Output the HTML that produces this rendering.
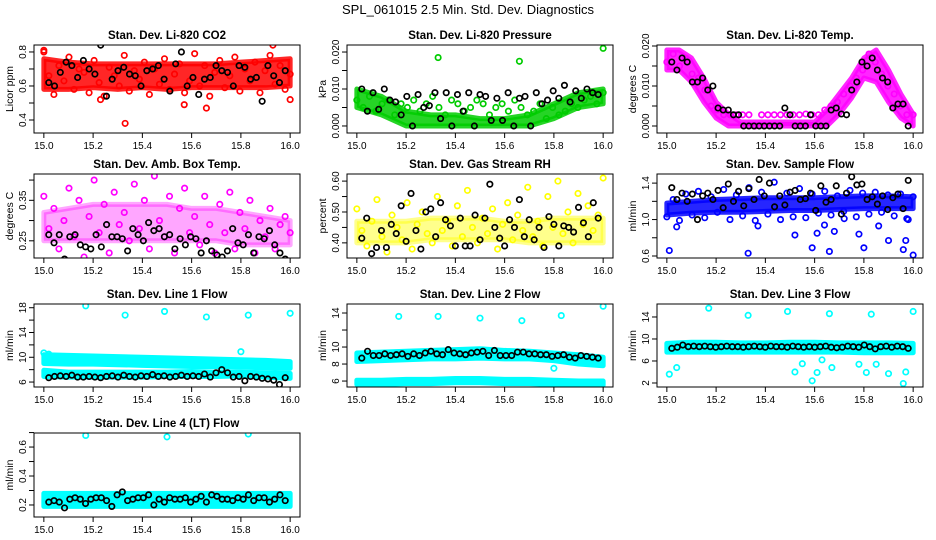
<!DOCTYPE html>
<html><head><meta charset="utf-8"><style>
html,body{margin:0;padding:0;background:#fff;}
svg{display:block;font-family:"Liberation Sans",sans-serif;}
</style></head><body>
<svg id="chart" width="936" height="540" viewBox="0 0 936 540" xmlns="http://www.w3.org/2000/svg">
<text x="468" y="14" text-anchor="middle" font-size="13">SPL_061015  2.5 Min. Std. Dev. Diagnostics</text>
</svg>
<script>
// x tick values shared by all panels
const xTicks = [15.0,15.2,15.4,15.6,15.8,16.0];
// ---- Panel 1: CO2
const co2BandLo = [0.58,0.58,0.59,0.58,0.59,0.58,0.59,0.59,0.59,0.59,0.60];
const co2BandHi = [0.76,0.74,0.73,0.73,0.73,0.73,0.73,0.73,0.74,0.75,0.76];
const co2Cloud = [0.80,0.66,0.55,0.72,0.63,0.77,0.58,0.70,0.68,0.56,0.75,0.62,0.54,0.71,0.66,0.60,0.78,0.57,0.69,0.64,0.74,0.55,0.70,0.61,0.76,0.58,0.67,0.73,0.56,0.63,0.79,0.60,0.72,0.54,0.68,0.75,0.59,0.66,0.77,0.57,0.70,0.63,0.74,0.56,0.69,0.78,0.61,0.72,0.58,0.67];
const co2OutX = [15.33,15.66,15.57,15.23,16.0,15.93,15.0];
const co2OutY = [0.38,0.47,0.49,0.52,0.52,0.84,0.81];
const co2Black = [0.62,0.60,0.68,0.74,0.72,0.65,0.75,0.70,0.67,0.84,0.54,0.64,0.69,0.71,0.67,0.66,0.60,0.69,0.70,0.72,0.64,0.57,0.73,0.80,0.60,0.65,0.55,0.64,0.65,0.72,0.69,0.68,0.60,0.72,0.71,0.64,0.65,0.51,0.72,0.66,0.62,0.69];
// ---- Panel 2: Pressure
const presBandLo = [0.005,0.003,0.0,0.0,0.0,0.0,0.0,0.0,0.002,0.005,0.006];
const presBandHi = [0.010,0.008,0.004,0.003,0.003,0.002,0.002,0.003,0.006,0.009,0.010];
const presCloud = [0.007,0.005,0.008,0.004,0.006,0.007,0.003,0.006,0.005,0.007,0.004,0.006,0.008,0.005,0.003,0.007,0.006,0.004,0.005,0.007,0.006,0.003,0.005,0.006,0.004,0.007,0.005,0.003,0.004,0.006,0.002,0.005,0.003,0.004,0.006,0.005,0.007,0.008,0.006,0.009];
const presOutX = [15.33,15.66,16.0];
const presOutY = [0.0185,0.0175,0.021];
const presBlack = [0.010,0.004,0.009,0.0045,0.010,0.007,0.0065,0.003,0.008,0.000,0.0085,0.005,0.0055,0.009,0.002,0.009,0.000,0.0085,0.004,0.009,0.0,0.0085,0.008,0.0015,0.0075,0.0015,0.009,0.000,0.0075,0.008,0.000,0.009,0.006,0.007,0.0095,0.0075,0.011,0.0065,0.0095,0.0075,0.010,0.009,0.0085];
// ---- Panel 3: Li-820 Temp
const tempBandLo = [0.014,0.014,0.011,0.006,0.002,0.000,0,0,0,0,0,0,0,0.000,0.003,0.007,0.012,0.011,0.006,0.002,0.000];
const tempBandHi = [0.019,0.019,0.017,0.012,0.006,0.003,0.001,0.001,0.001,0.001,0.001,0.001,0.001,0.004,0.008,0.012,0.017,0.019,0.014,0.008,0.003];
const tempCloud = [0.016,0.018,0.015,0.017,0.013,0.012,0.009,0.005,0.004,0.0028,0.0028,0.0028,0.0028,0.0028,0.000,0.0028,0.0028,0.0028,0.0028,0.0028,0.0028,0.0028,0.003,0.0028,0.0028,0.004,0.005,0.006,0.008,0.010,0.012,0.014,0.018,0.016,0.013,0.010,0.008,0.005,0.0028,0.0028];
const tempOutX = [];
const tempOutY = [];
const tempBlack = [0.016,0.014,0.017,0.016,0.011,0.011,0.012,0.009,0.010,0.0045,0.004,0.004,0.0028,0.0028,0,0,0,0,0,0,0,0,0.0045,0.0028,0,0,0,0.0028,0,0,0,0.004,0.0045,0.003,0.0028,0.009,0.011,0.016,0.015,0.017,0.014,0.012,0.011,0.0045,0.0055,0.0055,0.0];
// ---- Panel 4: Amb box temp
const boxBandLo = [0.25,0.25,0.25,0.25,0.25,0.25,0.25,0.25,0.24,0.24,0.24];
const boxBandHi = [0.32,0.33,0.34,0.34,0.34,0.34,0.33,0.33,0.32,0.31,0.30];
const boxCloud = [0.36,0.28,0.33,0.23,0.30,0.38,0.26,0.35,0.21,0.31,0.40,0.27,0.34,0.22,0.37,0.29,0.32,0.25,0.39,0.28,0.35,0.23,0.41,0.30,0.26,0.36,0.22,0.33,0.38,0.27,0.31,0.24,0.36,0.29,0.22,0.34,0.27,0.37,0.23,0.32,0.28,0.35,0.22,0.30,0.26,0.33,0.23,0.29,0.31,0.27];
const boxOutX = [];
const boxOutY = [];
const boxBlack = [0.265,0.245,0.265,0.205,0.26,0.265,0.24,0.235,0.23,0.265,0.235,0.29,0.26,0.26,0.255,0.225,0.28,0.265,0.25,0.295,0.275,0.28,0.26,0.265,0.23,0.255,0.24,0.26,0.255,0.22,0.25,0.225,0.215,0.21,0.225,0.28,0.245,0.24,0.265,0.22,0.26,0.255,0.275,0.24,0.22,0.205];
// ---- Panel 5: Gas stream RH
const rhBandLo = [0.40,0.40,0.40,0.41,0.41,0.41,0.41,0.40,0.40,0.40,0.40];
const rhBandHi = [0.47,0.47,0.47,0.48,0.48,0.48,0.47,0.47,0.48,0.48,0.48];
const rhCloud = [0.51,0.44,0.39,0.47,0.54,0.42,0.37,0.49,0.45,0.41,0.53,0.38,0.46,0.50,0.43,0.40,0.55,0.44,0.47,0.39,0.52,0.42,0.57,0.45,0.40,0.48,0.43,0.51,0.38,0.46,0.53,0.41,0.49,0.44,0.58,0.42,0.47,0.39,0.55,0.45,0.60,0.43,0.50,0.40,0.56,0.46,0.52,0.44,0.49,0.61];
const rhOutX = [];
const rhOutY = [];
const rhBlack = [0.415,0.48,0.365,0.385,0.44,0.385,0.46,0.43,0.52,0.405,0.56,0.44,0.38,0.50,0.51,0.42,0.53,0.475,0.455,0.39,0.48,0.39,0.39,0.49,0.41,0.48,0.59,0.45,0.415,0.39,0.475,0.45,0.54,0.42,0.475,0.41,0.45,0.385,0.485,0.46,0.39,0.455,0.45,0.435,0.515,0.465,0.42,0.53,0.48];
// ---- Panel 6: Sample flow
const sfBandLo = [1.05,1.07,1.08,1.08,1.09,1.10,1.10,1.11,1.12,1.12,1.12];
const sfBandHi = [1.18,1.20,1.22,1.23,1.24,1.24,1.24,1.25,1.26,1.26,1.25];
const sfCloud = [1.03,1.22,0.99,1.28,1.05,1.31,1.02,1.25,1.08,1.33,1.00,1.27,1.04,1.35,0.99,1.30,1.06,1.41,1.00,1.29,1.03,1.34,1.02,1.28,1.07,1.31,1.05,1.26,1.09,1.32,1.03,1.29,1.06,1.30,1.08,1.27,1.04,1.28,1.01,1.25];
const sfOutX = [15.01,15.04,15.33,15.37,15.52,15.59,15.61,15.64,15.66,15.68,15.72,15.78,15.80,15.86,15.90,15.96,15.97,15.98,16.0];
const sfOutY = [0.66,0.92,0.63,0.93,0.83,0.69,0.85,0.94,0.65,0.87,1.01,0.84,0.69,0.93,0.77,0.67,0.77,1.00,0.61];
const sfBlack = [1.35,1.22,1.29,1.20,1.28,1.00,1.26,1.29,1.22,1.32,1.13,1.39,1.20,1.31,1.15,1.34,1.22,1.44,1.26,1.40,1.14,1.26,1.16,1.30,1.32,1.22,1.23,1.29,1.10,1.37,1.19,1.22,1.37,1.06,1.29,1.47,1.38,1.39,1.22,1.25,1.17,1.26,1.11,1.24,1.28,1.12,1.43];
// ---- Panel 7: Line 1 flow (two bands)
const l1BandLo = [9.0,8.9,8.9,8.8,8.7,8.6,8.5,8.5,8.4,8.3,8.2];
const l1BandHi = [10.4,10.3,10.2,10.1,10.0,9.9,9.8,9.7,9.6,9.5,9.3];
const l1Band2Lo = [6.9,6.8,6.8,6.8,6.8,6.9,6.9,6.9,7.0,6.8,6.6];
const l1Band2Hi = [7.9,7.6,7.6,7.6,7.6,7.6,7.7,7.6,7.6,7.5,7.4];
const l1OutX = [15.17,15.33,15.49,15.66,15.80,15.83,16.0,15.0,15.02];
const l1OutY = [18.3,16.8,17.4,16.5,10.9,16.8,17.1,10.7,10.5];
const l1Black = [6.7,6.9,7.0,6.9,7.1,6.8,6.8,6.9,6.8,6.7,6.9,7.0,6.8,7.1,6.9,6.8,7.0,6.9,7.2,6.9,7.0,6.8,6.9,7.1,6.9,7.0,6.9,7.3,6.8,7.5,8.0,7.5,6.8,6.9,6.2,6.9,6.8,6.6,6.5,6.3,5.6,6.7];
// ---- Panel 8: Line 2 flow
const l2BandLo = [8.3,8.4,8.5,8.6,8.6,8.7,8.6,8.6,8.4,8.0,7.8];
const l2BandHi = [9.3,9.4,9.5,9.6,9.7,9.8,9.6,9.5,9.3,9.1,8.8];
const l2Band2Lo = [5.6,5.6,5.7,5.7,5.8,5.8,5.7,5.7,5.6,5.6,5.5];
const l2Band2Hi = [6.1,6.1,6.2,6.2,6.3,6.3,6.2,6.2,6.1,6.0,6.0];
const l2OutX = [15.17,15.33,15.50,15.67,15.80,15.83,16.0];
const l2OutY = [13.6,13.6,13.4,13.1,7.5,13.7,14.8];
const l2Black = [8.7,9.5,9.0,9.0,9.2,9.0,9.1,9.2,8.9,9.2,9.0,9.3,9.5,9.2,9.1,9.7,9.3,9.2,9.1,9.3,9.4,9.5,9.0,9.6,9.0,9.0,9.0,9.4,9.4,9.2,9.2,9.1,9.1,8.9,9.0,9.1,8.8,8.7,9.0,8.9,8.8,8.7];
// ---- Panel 9: Line 3 flow
const l3BandLo = [7.6,7.6,7.6,7.6,7.6,7.6,7.6,7.6,7.5,7.5,7.5];
const l3BandHi = [9.2,9.4,9.4,9.3,9.3,9.4,9.4,9.3,9.3,9.3,9.2];
const l3OutX = [15.01,15.04,15.17,15.33,15.49,15.52,15.55,15.59,15.61,15.63,15.66,15.67,15.78,15.81,15.83,15.85,15.90,15.96,15.97,16.0];
const l3OutY = [3.6,4.8,15.6,14.3,15.0,4.0,5.5,2.4,3.9,6.2,14.6,4.8,5.4,3.9,14.5,5.4,3.7,1.9,4.0,15.0];
const l3Black = [8.3,8.5,8.9,8.6,8.7,8.6,8.7,8.6,8.5,8.6,8.7,8.6,8.6,8.5,8.6,8.7,8.6,8.5,8.7,8.6,8.6,8.5,8.7,8.6,8.5,8.6,8.5,8.6,8.7,8.5,8.4,8.5,8.7,8.6,8.5,8.9,8.6,8.2,8.6,8.7,8.5,8.7,8.6,8.3];
// ---- Panel 10: Line 4 flow
const l4BandLo = [0.19,0.19,0.19,0.19,0.19,0.19,0.19,0.19,0.19,0.19,0.19];
const l4BandHi = [0.28,0.28,0.28,0.28,0.28,0.28,0.28,0.28,0.28,0.28,0.28];
const l4OutX = [15.17,15.50,15.83];
const l4OutY = [0.68,0.67,0.69];
const l4Black = [0.22,0.23,0.22,0.18,0.24,0.25,0.24,0.21,0.24,0.25,0.25,0.23,0.19,0.27,0.29,0.23,0.24,0.25,0.25,0.27,0.20,0.24,0.22,0.25,0.24,0.24,0.25,0.22,0.24,0.26,0.22,0.27,0.26,0.24,0.24,0.23,0.25,0.24,0.27,0.23,0.25,0.25,0.22,0.24,0.27,0.23];

const NS = "http://www.w3.org/2000/svg";
const svg = document.getElementById('chart');
function mk(tag, attrs, parent){const e=document.createElementNS(NS,tag);for(const k in attrs)e.setAttribute(k,attrs[k]);(parent||svg).appendChild(e);return e;}

const panels = [
 {key:'co2',title:'Stan. Dev. Li-820 CO2',ylab:'Licor ppm',col:0,row:0,color:'#ff0000',ymin:0.3235,ymax:0.841,ticks:[0.4,0.5,0.6,0.7,0.8],labels:{'0.4':'0.4','0.6':'0.6','0.8':'0.8'},bands:[[co2BandLo,co2BandHi]],cloud:co2Cloud,ox:co2OutX,oy:co2OutY,blk:co2Black,op:0.85},
 {key:'pres',title:'Stan. Dev. Li-820 Pressure',ylab:'kPa',col:1,row:0,color:'#00cc00',ymin:-0.0019,ymax:0.0219,ticks:[0,0.005,0.01,0.015,0.02],labels:{'0':'0.000','0.01':'0.010','0.02':'0.020'},bands:[[presBandLo,presBandHi]],cloud:presCloud,ox:presOutX,oy:presOutY,blk:presBlack,op:0.85},
 {key:'temp',title:'Stan. Dev. Li-820 Temp.',ylab:'degrees C',col:2,row:0,color:'#ff00ff',ymin:-0.00175,ymax:0.02025,ticks:[0,0.005,0.01,0.015,0.02],labels:{'0':'0.000','0.01':'0.010','0.02':'0.020'},bands:[[tempBandLo,tempBandHi]],cloud:tempCloud,ox:tempOutX,oy:tempOutY,blk:tempBlack,op:0.85},
 {key:'box',title:'Stan. Dev. Amb. Box Temp.',ylab:'degrees C',col:0,row:1,color:'#ff00ff',ymin:0.2075,ymax:0.415,ticks:[0.25,0.30,0.35,0.40],labels:{'0.25':'0.25','0.35':'0.35'},bands:[[boxBandLo,boxBandHi]],cloud:boxCloud,ox:boxOutX,oy:boxOutY,blk:boxBlack,op:0.35},
 {key:'rh',title:'Stan. Dev. Gas Stream RH',ylab:'percent',col:1,row:1,color:'#ffff00',ymin:0.351,ymax:0.623,ticks:[0.40,0.45,0.50,0.55,0.60],labels:{'0.4':'0.40','0.5':'0.50','0.6':'0.60'},bands:[[rhBandLo,rhBandHi]],cloud:rhCloud,ox:rhOutX,oy:rhOutY,blk:rhBlack,op:0.45},
 {key:'sf',title:'Stan. Dev. Sample Flow',ylab:'ml/min',col:2,row:1,color:'#0000ff',ymin:0.578,ymax:1.5,ticks:[0.6,0.8,1.0,1.2,1.4],labels:{'0.6':'0.6','1':'1.0','1.4':'1.4'},bands:[[sfBandLo,sfBandHi]],cloud:sfCloud,ox:sfOutX,oy:sfOutY,blk:sfBlack,op:0.85},
 {key:'l1',title:'Stan. Dev. Line 1 Flow',ylab:'ml/min',col:0,row:2,color:'#00ffff',ymin:5.2,ymax:18.6,ticks:[6,8,10,12,14,16,18],labels:{'6':'6','10':'10','14':'14','18':'18'},bands:[[l1BandLo,l1BandHi],[l1Band2Lo,l1Band2Hi]],cloud:[],ox:l1OutX,oy:l1OutY,blk:l1Black,op:1},
 {key:'l2',title:'Stan. Dev. Line 2 Flow',ylab:'ml/min',col:1,row:2,color:'#00ffff',ymin:5.3,ymax:15.06,ticks:[6,8,10,12,14],labels:{'6':'6','8':'8','10':'10','14':'14'},bands:[[l2BandLo,l2BandHi],[l2Band2Lo,l2Band2Hi]],cloud:[],ox:l2OutX,oy:l2OutY,blk:l2Black,op:1},
 {key:'l3',title:'Stan. Dev. Line 3 Flow',ylab:'ml/min',col:2,row:2,color:'#00ffff',ymin:1.27,ymax:16.36,ticks:[2,6,10,14],labels:{'2':'2','6':'6','10':'10','14':'14'},bands:[[l3BandLo,l3BandHi]],cloud:[],ox:l3OutX,oy:l3OutY,blk:l3Black,op:1},
 {key:'l4',title:'Stan. Dev. Line 4 (LT) Flow',ylab:'ml/min',col:0,row:3,color:'#00ffff',ymin:0.117,ymax:0.697,ticks:[0.2,0.3,0.4,0.5,0.6,0.7],labels:{'0.2':'0.2','0.4':'0.4','0.6':'0.6'},bands:[[l4BandLo,l4BandHi]],cloud:[],ox:l4OutX,oy:l4OutY,blk:l4Black,op:1}
];
const colLeft=[34,347,657], W=266;
const rowTop=[45,174,304,433], rowBot=[133,258,387,517];

panels.forEach(p=>{
  const L=colLeft[p.col], T=rowTop[p.row], B=rowBot[p.row], H=B-T;
  const xs=v=>L+(v-14.96)/1.08*W;
  const ys=v=>B-(v-p.ymin)/(p.ymax-p.ymin)*H;
  const g=mk('g',{});
  
  
  const clip=mk('clipPath',{id:'clip-'+p.key},g);
  mk('rect',{x:L,y:T,width:W,height:H},clip);
  const t=mk('text',{x:L+W/2,y:T-6,'text-anchor':'middle','font-size':'11.5','font-weight':'bold'},g);
  t.textContent=p.title;
  
  
  const yl=mk('text',{x:0,y:0,'text-anchor':'middle','font-size':'10.5',transform:`translate(${L-21},${(T+B)/2}) rotate(-90)`},g);
  yl.textContent=p.ylab;
  
  
  const data=mk('g',{'clip-path':`url(#clip-${p.key})`},g);
  
  
  p.bands.forEach(([lo,hi])=>{
    const n=lo.length; let pts=[];
    for(let i=0;i<n;i++)pts.push(xs(15+i/(n-1))+','+ys(hi[i]));
    for(let i=n-1;i>=0;i--)pts.push(xs(15+i/(n-1))+','+ys(lo[i]));
    const poly=mk('polygon',{points:pts.join(' '),fill:p.color,stroke:p.color,'stroke-width':5,'stroke-linejoin':'round','fill-opacity':p.op,'stroke-opacity':p.op},data);
    
    
  });
  const circ=(x,y,c)=>{const e=mk('circle',{cx:x,cy:y,r:2.7,fill:'none',stroke:c,'stroke-width':1.7},data);return e;};
  p.cloud.forEach((v,i)=>{const e=circ(xs(15+i/(p.cloud.length-1)),ys(v),p.color);
    
    });
  p.ox.forEach((x,i)=>{const e=circ(xs(x),ys(p.oy[i]),p.color);
    
    });
  p.blk.forEach((v,i)=>{const e=circ(xs(15.02+0.96*i/(p.blk.length-1)),ys(v),'#000');
    
    });
  const box=mk('rect',{x:L,y:T,width:W,height:H,fill:'none',stroke:'#000','stroke-width':1},g);
  
  
  xTicks.forEach(v=>{
    mk('line',{x1:xs(v),x2:xs(v),y1:B,y2:B+5,stroke:'#000'},g);
    const tl=mk('text',{x:xs(v),y:B+16,'text-anchor':'middle','font-size':'10'},g);
    tl.textContent=v.toFixed(1);
    
    
  });
  p.ticks.forEach(v=>{
    mk('line',{x1:L-5,x2:L,y1:ys(v),y2:ys(v),stroke:'#000'},g);
    const key=String(+v.toFixed(4));
    if(p.labels[key]!==undefined){
      const tl=mk('text',{x:0,y:0,'text-anchor':'middle','font-size':'10',transform:`translate(${L-8},${ys(v)}) rotate(-90)`},g);
      tl.textContent=p.labels[key];
      
      
    }
  });
});
</script>
</body></html>
